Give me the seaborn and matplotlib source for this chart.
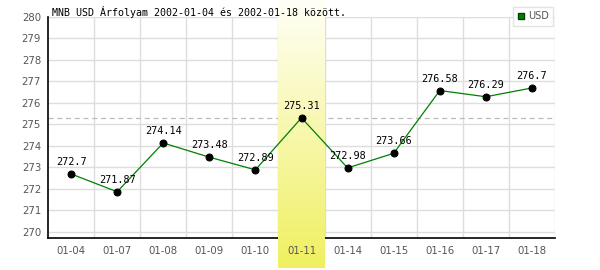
import numpy as np
import pandas as pd
import matplotlib
matplotlib.use("Agg")
import matplotlib.pyplot as plt
import seaborn as sns
from matplotlib.lines import Line2D

dates = ["01-04", "01-07", "01-08", "01-09", "01-10", "01-11",
         "01-14", "01-15", "01-16", "01-17", "01-18"]
values = [272.7, 271.87, 274.14, 273.48, 272.89, 275.31,
          272.98, 273.66, 276.58, 276.29, 276.7]
labels = ["272.7", "271.87", "274.14", "273.48", "272.89", "275.31",
          "272.98", "273.66", "276.58", "276.29", "276.7"]
yticks = [270, 271, 272, 273, 274, 275, 276, 277, 278, 279, 280]
highlight = "01-11"
title = "MNB USD Árfolyam 2002-01-04 és 2002-01-18 között."
series_name = "USD"

sns.set_style("white")
plt.rcParams['font.family'] = ['DejaVu Sans']

W, H = 600, 270
fig = plt.figure(figsize=(W / 100, H / 100), dpi=100)
L, R, T, B = 48, 555, 17, 238
ax = fig.add_axes([L / W, 1 - B / H, (R - L) / W, (B - T) / H])
ax.set_axisbelow(False)

n = len(dates)
hi = dates.index(highlight)

df = pd.DataFrame({"date": dates, "value": values})
sns.lineplot(data=df, x="date", y="value", ax=ax, color="#008000", lw=0.9,
             marker="o", markersize=5, markerfacecolor="black",
             markeredgecolor="black", sort=False, zorder=3)

ax.set_xlim(-0.5, n - 0.5)
ax.set_ylim(269.72, 280.0)
ax.set_yticks(yticks)
ax.set_xticks(range(n))
ax.set_xticklabels(dates)
ax.grid(False)
# grid lines drawn beneath the highlight column
for yv in yticks:
    ax.axhline(yv, color="#dddddd", lw=1, zorder=0.5)
for xb in np.arange(0.5, n, 1.0):
    ax.axvline(xb, color="#dddddd", lw=1, zorder=0.5)
ax.tick_params(axis="both", which="both", length=0, labelsize=7.3, colors="#555555")
ax.tick_params(axis="x", pad=6)
ax.tick_params(axis="y", pad=5)
ax.set_xlabel("")
ax.set_ylabel("")
for s in ["top", "right"]:
    ax.spines[s].set_visible(False)
for s in ["left", "bottom"]:
    ax.spines[s].set_color("black")
    ax.spines[s].set_linewidth(1.2)
ax.spines["bottom"].set_zorder(0.9)

ax.axhline(values[hi], color="#bbbbbb", lw=0.9, ls=(0, (4, 3)), zorder=0.8)

# highlight gradient column, over grid but under data, extending beyond axes
fig.canvas.draw()
inv = ax.transData.inverted()
y_top = inv.transform((0, H - 0))[1]
y_bot = inv.transform((0, H - 268))[1]
grad = np.linspace(0, 1, 256)[:, None]
top = np.array([1.0, 1.0, 0.97])
bot = np.array([0.94, 0.94, 0.38])
img = top[None, None, :] * (1 - grad[:, :, None]) + bot[None, None, :] * grad[:, :, None]
ax.imshow(img, aspect="auto", extent=[hi - 0.5, hi + 0.5, y_bot, y_top],
          origin="upper", zorder=1, clip_on=False, interpolation="bilinear")
ax.set_xlim(-0.5, n - 0.5)
ax.set_ylim(269.72, 280.0)

for i, (v, lab) in enumerate(zip(values, labels)):
    ax.annotate(lab, (i, v), xytext=(0, 5), textcoords="offset points",
                ha="center", va="bottom", fontsize=7.3,
                family="DejaVu Sans Mono", color="black", zorder=4)

fig.text(52 / W, 1 - 12 / H, title, fontsize=7.2, family="DejaVu Sans Mono",
         ha="left", va="center", color="black")

handle = Line2D([], [], marker="s", color="none", markerfacecolor="#008000",
                markeredgecolor="#004000", markersize=5)
leg = fig.legend([handle], [series_name], loc="upper right",
                 bbox_to_anchor=(553 / W, 1 - 7 / H), fontsize=7,
                 frameon=True, fancybox=False, handlelength=0.8,
                 handletextpad=0.3, borderpad=0.45, borderaxespad=0)
leg.get_frame().set_edgecolor("#dddddd")
leg.get_frame().set_linewidth(1)
for t in leg.get_texts():
    t.set_color("#555555")

fig.savefig("out.png", dpi=100)
